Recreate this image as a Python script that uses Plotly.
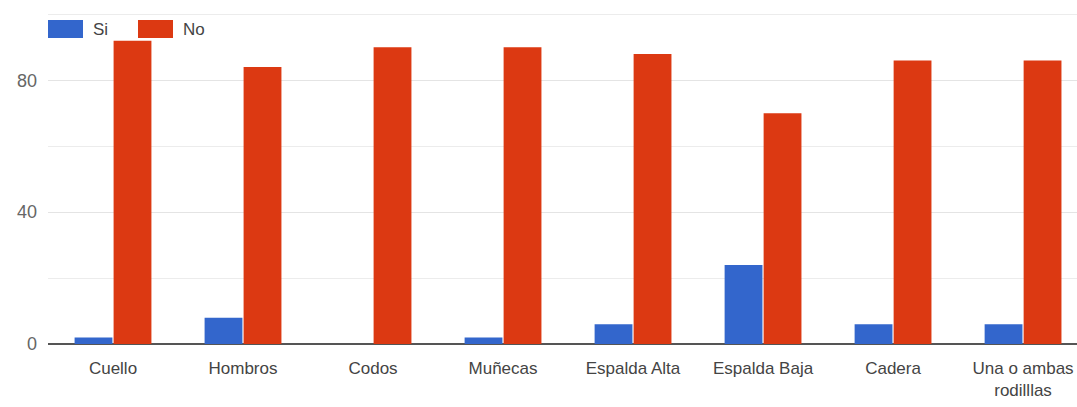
import plotly.graph_objects as go

categories = ["Cuello", "Hombros", "Codos", "Muñecas", "Espalda Alta",
              "Espalda Baja", "Cadera", "Una o ambas<br>rodilllas"]
series_names = ["Si", "No"]
si_values = [2, 8, 0, 2, 6, 24, 6, 6]
no_values = [92, 84, 90, 90, 88, 70, 86, 86]
colors = ["#3366CC", "#DC3912"]

fig = go.Figure()
for name, vals, col in zip(series_names, [si_values, no_values], colors):
    fig.add_trace(go.Bar(name=name, x=categories, y=vals, showlegend=False,
                         marker=dict(color=col, line=dict(width=0))))

# plot area geometry (pixels) used to place the custom legend
L, T, W, H = 48, 13, 1029, 331
def px(x):
    return (x - L) / W
def py(y):
    return (T + H - y) / H

shapes = []
annotations = []
legend_x = [48, 138]
for name, col, x0 in zip(series_names, colors, legend_x):
    shapes.append(dict(type="rect", xref="paper", yref="paper",
                       x0=px(x0), x1=px(x0 + 35), y0=py(38), y1=py(20),
                       fillcolor=col, line=dict(width=0), layer="above"))
    annotations.append(dict(text=name, xref="paper", yref="paper",
                            x=px(x0 + 43), y=py(29), xanchor="left", yanchor="middle",
                            showarrow=False, font=dict(size=17, color="#444444")))

fig.update_layout(
    width=1077, height=407,
    margin=dict(l=L, r=0, t=T, b=407 - T - H),
    paper_bgcolor="white", plot_bgcolor="white",
    barmode="group", bargap=0.4, bargroupgap=0.03,
    font=dict(family="Liberation Sans, Arial, sans-serif", size=17, color="#444444"),
    shapes=shapes, annotations=annotations,
    xaxis=dict(range=[-0.5, 7.415], showgrid=False, showline=False,
               ticks="", ticklabelstandoff=12,
               tickfont=dict(size=17, color="#444444")),
    yaxis=dict(range=[0, 100.4], tickvals=[0, 40, 80], showgrid=True,
               gridcolor="#e4e4e4", gridwidth=1, zeroline=True,
               zerolinecolor="#555555", zerolinewidth=2,
               tickfont=dict(size=18, color="#666666"), ticklabelstandoff=10,
               minor=dict(tickvals=[20, 60, 100], showgrid=True,
                          gridcolor="#ececec", gridwidth=1)),
)

fig.write_html("out.html")
